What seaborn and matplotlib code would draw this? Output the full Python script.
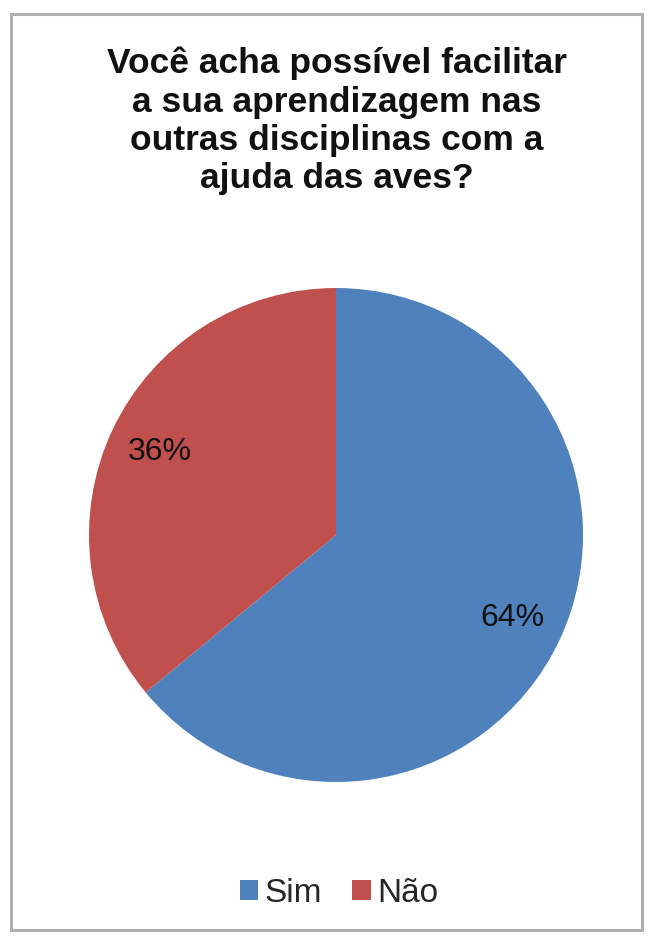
import matplotlib
matplotlib.use("Agg")
import matplotlib.pyplot as plt
import seaborn as sns
from matplotlib.patches import Rectangle, Patch

sns.set_theme(style="white")
plt.rcParams['font.family'] = ['Liberation Sans', 'DejaVu Sans']

title = "Você acha possível facilitar\na sua aprendizagem nas\noutras disciplinas com a\najuda das aves?"
categories = ["Sim", "Não"]
values = [64, 36]
colors = ["#4F81BD", "#C0504D"]

W, H = 653, 938
fig = plt.figure(figsize=(W / 100, H / 100), dpi=100)
fig.patch.set_facecolor("white")

# outer frame
fig.patches.append(Rectangle((11 / W, 1 - 930 / H), (642 - 11) / W, (930 - 14) / H,
                             transform=fig.transFigure, fill=False,
                             edgecolor="#B0B0B0", lw=2.2))

fig.text(337 / W, 1 - 121 / H, title, ha="center", va="center",
         multialignment="center", fontsize=25.5, fontweight="bold",
         color="#111111", linespacing=1.21)

cx, cy, r = 336, 535, 247
ax = fig.add_axes([(cx - r) / W, 1 - (cy + r) / H, 2 * r / W, 2 * r / H])
wedges, texts, autotexts = ax.pie(values, colors=colors, startangle=90,
                                  counterclock=False, autopct="%d%%",
                                  pctdistance=0.79,
                                  textprops=dict(fontsize=23, color="#111111"),
                                  wedgeprops=dict(linewidth=0))
ax.set_xlim(-1, 1)
ax.set_ylim(-1, 1)
ax.set_aspect("equal")
ax.axis("off")

handles = [Patch(facecolor=c, edgecolor="none") for c in colors]
fig.legend(handles, categories, loc="center", bbox_to_anchor=(339 / W, 1 - 893 / H),
           ncol=2, frameon=False, fontsize=24, handlelength=0.55, handleheight=0.55,
           handletextpad=0.2, columnspacing=0.9)

fig.savefig("out.png", dpi=100, facecolor="white")
